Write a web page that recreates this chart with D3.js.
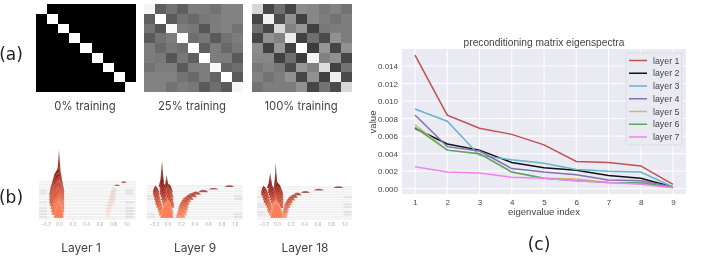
<!DOCTYPE html>
<html>
<head>
<meta charset="utf-8">
<script src="https://cdn.jsdelivr.net/npm/d3@7/dist/d3.min.js"></script>
<style>
html, body { margin: 0; padding: 0; background: #fff; }
svg { display: block; filter: blur(0.35px); }
</style>
</head>
<body>
<div class="graph"></div>
<script>
// (a) gram matrices, grey level 0-255
var matrixLabels = ["0% training", "25% training", "100% training"];
var matrix0 = [
    [255, 0, 0, 0, 0, 0, 0, 0, 0],
    [0, 255, 0, 0, 0, 0, 0, 0, 0],
    [0, 0, 255, 0, 0, 0, 0, 0, 0],
    [0, 0, 0, 255, 0, 0, 0, 0, 0],
    [0, 0, 0, 0, 255, 0, 0, 0, 0],
    [0, 0, 0, 0, 0, 255, 0, 0, 0],
    [0, 0, 0, 0, 0, 0, 255, 0, 0],
    [0, 0, 0, 0, 0, 0, 0, 255, 0],
    [0, 0, 0, 0, 0, 0, 0, 0, 255]
];
var matrix25 = [
    [245, 95, 115, 95, 125, 125, 115, 130, 130],
    [95, 255, 90, 115, 105, 120, 125, 130, 130],
    [115, 85, 250, 125, 120, 85, 125, 130, 115],
    [90, 115, 125, 255, 110, 120, 90, 115, 125],
    [125, 105, 120, 110, 255, 95, 125, 105, 120],
    [125, 120, 85, 120, 95, 255, 125, 125, 90],
    [115, 125, 125, 90, 125, 125, 248, 100, 110],
    [130, 130, 130, 115, 105, 125, 100, 255, 90],
    [130, 130, 115, 125, 120, 90, 110, 90, 245]
];
var matrix100 = [
    [215, 70, 110, 70, 140, 135, 120, 130, 115],
    [70, 240, 75, 145, 65, 135, 125, 115, 125],
    [110, 70, 215, 130, 150, 65, 120, 125, 125],
    [70, 145, 130, 235, 65, 110, 75, 145, 125],
    [140, 65, 150, 65, 255, 60, 150, 70, 145],
    [135, 135, 65, 110, 60, 245, 130, 145, 70],
    [120, 130, 120, 75, 150, 130, 220, 65, 115],
    [130, 115, 125, 145, 70, 145, 65, 240, 75],
    [115, 125, 125, 125, 145, 70, 115, 75, 215]
];

// (b) ridgelines, back row first. each spike is [left, peak, right, height]
var ridgeLabels = ["Layer 1", "Layer 9", "Layer 18"];
var ridgeTicks = [-0.2, 0, 0.2, 0.4, 0.6, 0.8, 1.0];
var layer1Core = [
    [[-0.05, 0, 0.05, 10]],
    [[-0.07, 0, 0.05, 8.5]],
    [[-0.13, -0.01, 0.07, 6.5]],
    [[-0.14, -0.01, 0.08, 6]],
    [[-0.15, 0, 0.08, 5.5]],
    [[-0.15, 0, 0.08, 5.5]],
    [[-0.15, 0, 0.08, 6]],
    [[-0.15, -0.01, 0.08, 5.5]],
    [[-0.14, -0.01, 0.08, 5.5]],
    [[-0.13, 0, 0.08, 5]],
    [[-0.12, 0, 0.08, 5]],
    [[-0.11, 0, 0.07, 5]],
    [[-0.08, 0, 0.07, 5.2]]
];
var layer1Arm = [
    [0.92, 0.96, 1.0, 0.5],
    [0.81, 0.86, 0.91, 0.4],
    [0.88, 0.92, 0.95, 0.1],
    [0.76, 0.81, 0.87, 1.5],
    [0.75, 0.8, 0.86, 1.5],
    [0.74, 0.79, 0.85, 1.5],
    [0.72, 0.79, 0.85, 1.5],
    [0.71, 0.78, 0.84, 1.5],
    [0.69, 0.76, 0.83, 1.5],
    [0.69, 0.74, 0.81, 1.5],
    [0.68, 0.73, 0.79, 1.5],
    [0.68, 0.73, 0.78, 1.4],
    [0.67, 0.72, 0.77, 1.4]
];
var layer9Core = [
    [[-0.13, -0.08, -0.04, 7.9], [-0.05, -0.015, 0.03, 3.6]],
    [[-0.12, -0.08, -0.03, 6.5], [-0.05, -0.01, 0.04, 3.4]],
    [[-0.22, -0.18, -0.12, 2], [-0.12, -0.06, 0, 2.8], [-0.03, 0.02, 0.08, 2.6]],
    [[-0.22, -0.18, -0.11, 2.2], [-0.12, -0.06, 0, 2.4], [-0.03, 0.01, 0.08, 2.6]],
    [[-0.21, -0.17, -0.11, 2.2], [-0.11, -0.05, 0.01, 2.1], [-0.03, 0.02, 0.09, 2.8]],
    [[-0.2, -0.16, -0.1, 2.3], [-0.1, -0.04, 0.01, 2], [-0.03, 0.03, 0.09, 2.8]],
    [[-0.19, -0.15, -0.09, 2.3], [-0.09, -0.03, 0.03, 2], [-0.01, 0.04, 0.09, 2.7]],
    [[-0.18, -0.14, -0.08, 2.3], [-0.08, -0.02, 0.04, 2.4], [0.01, 0.05, 0.1, 2.5]],
    [[-0.17, -0.12, -0.07, 2.4], [-0.08, -0.01, 0.06, 2.7], [0.03, 0.06, 0.1, 2.2]],
    [[-0.15, -0.11, -0.06, 2.4], [-0.08, 0, 0.08, 3.2]],
    [[-0.14, -0.1, -0.05, 2.2], [-0.08, 0, 0.09, 3.6]],
    [[-0.13, -0.09, -0.04, 2], [-0.09, 0, 0.09, 4.1]],
    [[-0.11, -0.02, 0.09, 4.5]]
];
var layer9Arm = [
    [0.84, 0.92, 0.99, 0.5],
    [0.6, 0.68, 0.76, 0.5],
    [0.45, 0.53, 0.61, 0.7],
    [0.34, 0.42, 0.5, 1],
    [0.28, 0.36, 0.44, 1.3],
    [0.24, 0.31, 0.39, 1.5],
    [0.2, 0.27, 0.35, 1.7],
    [0.18, 0.25, 0.33, 1.8],
    [0.16, 0.23, 0.32, 1.9],
    [0.15, 0.22, 0.31, 2],
    [0.14, 0.21, 0.3, 2],
    [0.13, 0.2, 0.29, 2],
    [0.12, 0.18, 0.27, 2]
];
var layer18Core = [
    [[-0.15, -0.1, -0.06, 4.6], [-0.05, -0.02, 0.02, 7.6]],
    [[-0.14, -0.09, -0.05, 3.8], [-0.05, -0.02, 0.03, 6]],
    [[-0.24, -0.2, -0.13, 2.2], [-0.14, -0.08, -0.02, 2.4], [-0.05, 0, 0.09, 3.4]],
    [[-0.24, -0.19, -0.12, 2.2], [-0.13, -0.07, -0.01, 2.4], [-0.04, 0.01, 0.1, 2.8]],
    [[-0.22, -0.18, -0.11, 2.2], [-0.12, -0.06, 0, 2.2], [-0.03, 0.02, 0.1, 2.6]],
    [[-0.21, -0.17, -0.1, 2.2], [-0.11, -0.05, 0.01, 2.1], [-0.03, 0.03, 0.1, 2.4]],
    [[-0.2, -0.16, -0.09, 2.2], [-0.1, -0.04, 0.01, 2.2], [-0.02, 0.03, 0.1, 2.4]],
    [[-0.18, -0.14, -0.08, 2.2], [-0.09, -0.03, 0.03, 2.4], [0, 0.04, 0.1, 2.2]],
    [[-0.16, -0.12, -0.07, 2.1], [-0.09, -0.02, 0.05, 2.8], [0.02, 0.05, 0.1, 1.8]],
    [[-0.15, -0.11, -0.06, 2.1], [-0.09, -0.02, 0.07, 3.2]],
    [[-0.14, -0.1, -0.05, 2], [-0.1, -0.02, 0.09, 3.7]],
    [[-0.12, -0.09, -0.04, 1.8], [-0.1, -0.02, 0.1, 4.2]],
    [[-0.1, -0.02, 0.1, 4.8]]
];
var layer18Arm = [
    [0.83, 0.91, 0.99, 0.5],
    [0.54, 0.62, 0.7, 0.5],
    [0.35, 0.42, 0.49, 0.6],
    [0.24, 0.3, 0.37, 0.9],
    [0.18, 0.25, 0.31, 1.1],
    [0.15, 0.21, 0.27, 1.3],
    [0.13, 0.18, 0.24, 1.5],
    [0.11, 0.16, 0.22, 1.6],
    [0.1, 0.14, 0.2, 1.7],
    [0.09, 0.13, 0.18, 1.7],
    [0.08, 0.12, 0.17, 1.7],
    [0.08, 0.11, 0.16, 1.6],
    [0.08, 0.1, 0.15, 1.4]
];
var layer1Edges = [0, 0, 0, 1, 1, 0, 0, 1, 0, 1, 1, 1, 1];
var layer9Edges = [0, 0, 0, 0, 1, 1, 0, 0, 0, 0, 0, 1, 1];
var layer18Edges = [0, 0, 0, 0, 1, 0, 0, 1, 1, 0, 1, 1, 0];

// (c) eigenspectra
var eigenIndex = [1, 2, 3, 4, 5, 6, 7, 8, 9];
var layerNames = ["layer 1", "layer 2", "layer 3", "layer 4", "layer 5", "layer 6", "layer 7"];
var layer1Values = [0.01524, 0.0084, 0.0069, 0.0062, 0.0050, 0.0031, 0.0030, 0.0026, 0.0005];
var layer2Values = [0.0069, 0.0051, 0.0044, 0.0030, 0.0024, 0.0021, 0.0015, 0.0012, 0.0002];
var layer3Values = [0.0091, 0.0077, 0.0038, 0.0033, 0.0029, 0.0022, 0.0020, 0.0019, 0.0002];
var layer4Values = [0.0084, 0.0048, 0.0043, 0.0023, 0.0019, 0.0016, 0.0010, 0.0009, 0.0002];
var layer5Values = [0.0073, 0.0044, 0.0040, 0.0019, 0.0012, 0.0011, 0.0007, 0.00065, 0.00015];
var layer6Values = [0.0070, 0.0044, 0.0040, 0.0019, 0.0012, 0.0009, 0.0007, 0.00068, 0.00015];
var layer7Values = [0.0025, 0.0019, 0.0018, 0.0013, 0.0012, 0.0009, 0.0007, 0.0005, 0.0001];
var yTicks = [0, 0.002, 0.004, 0.006, 0.008, 0.010, 0.012, 0.014];

const WIDTH = 723;
const HEIGHT = 260;
const LINE_COLORS = ["#c44e52", "#111111", "#64b5cd", "#8172b2", "#ccb974", "#55a868", "#f482ee"];
const CHART_FONT = "'Liberation Sans', Arial, sans-serif";
const CAPTION_FONT = "Inter, 'Open Sans', sans-serif";

var svg = d3.select(".graph").append("svg")
    .attr("width", WIDTH)
    .attr("height", HEIGHT);

svg.append("defs").append("filter")
    .attr("id", "soft")
    .append("feGaussianBlur")
    .attr("stdDeviation", 0.5);

var panelLabel = function (text, x, y) {
    svg.append("text")
        .attr("x", x)
        .attr("y", y)
        .attr("text-anchor", "middle")
        .style("font-family", "'DejaVu Sans', sans-serif")
        .style("font-size", "17px")
        .style("fill", "#222")
        .text(text);
};

var caption = function (text, x, y, size) {
    svg.append("text")
        .attr("x", x)
        .attr("y", y)
        .attr("text-anchor", "middle")
        .style("font-family", CAPTION_FONT)
        .style("font-size", size + "px")
        .style("fill", "#444")
        .text(text);
};

panelLabel("(a)", 11, 60);
panelLabel("(b)", 11, 203);
panelLabel("(c)", 539, 250);

// heatmaps
var drawMatrix = function (matrix, x0, x1, label, labelX) {
    var xScale = d3.scaleBand().domain(d3.range(matrix.length)).range([x0, x1]);
    var yScale = d3.scaleBand().domain(d3.range(matrix.length)).range([4, 92]);
    var cells = [];
    matrix.forEach(function (row, r) {
        row.forEach(function (v, c) {
            cells.push({r: r, c: c, v: v});
        });
    });
    svg.append("g").selectAll("rect")
        .data(cells)
        .enter().append("rect")
        .attr("x", function (d) { return Math.round(xScale(d.c)); })
        .attr("y", function (d) { return Math.round(yScale(d.r)); })
        .attr("width", function (d) { return Math.round(xScale(d.c) + xScale.bandwidth()) - Math.round(xScale(d.c)); })
        .attr("height", function (d) { return Math.round(yScale(d.r) + yScale.bandwidth()) - Math.round(yScale(d.r)); })
        .attr("shape-rendering", "crispEdges")
        .style("fill", function (d) { return d3.rgb(d.v, d.v, d.v); });
    caption(label, labelX, 110, 11.3);
};

drawMatrix(matrix0, 36, 136, matrixLabels[0], 85);
drawMatrix(matrix25, 143.7, 243, matrixLabels[1], 192);
drawMatrix(matrix100, 251.7, 352, matrixLabels[2], 301);

// ridgelines
var rowColor = d3.scaleLinear()
    .domain([0, 0.5, 1])
    .range(["#7c0f0a", "#c9452f", "#fb7f55"]);

var drawRidges = function (core, arm, edges, opts) {
    var g = svg.append("g");
    var xScale = d3.scaleLinear().domain([-0.2, 1.0]).range([opts.zero - 13.5, opts.zero + 67.5]);
    var rowScale = d3.scalePoint().domain(d3.range(core.length)).range([opts.top, 218]);
    var heightScale = d3.scaleLinear().domain([0, 10]).range([0, 33]);
    var rowGap = rowScale.step();

    // faint stripes behind the rows
    core.forEach(function (row, i) {
        g.append("rect")
            .attr("x", opts.x0)
            .attr("y", rowScale(i) - rowGap + 0.6)
            .attr("width", opts.x1 - opts.x0)
            .attr("height", rowGap - 0.7)
            .style("fill", "#f1f1f1");
        if (edges[i]) {
            g.append("rect")
                .attr("x", opts.x0)
                .attr("y", rowScale(i) - rowGap + 0.6)
                .attr("width", 8)
                .attr("height", rowGap - 0.7)
                .style("fill", "#e4e4e4");
            g.append("rect")
                .attr("x", xScale(1.0) - 1)
                .attr("y", rowScale(i) - rowGap + 0.6)
                .attr("width", 8)
                .attr("height", rowGap - 0.7)
                .style("fill", "#e0e0e0");
        }
    });

    var marks = g.append("g").attr("filter", "url(#soft)");

    var area = d3.area()
        .x(function (d) { return xScale(d[0]); })
        .y0(0)
        .y1(function (d) { return -heightScale(d[1]); });

    var drawSpike = function (spike, i, opacity, shoulder) {
        var mid0 = (spike[0] + spike[1]) / 2;
        var mid1 = (spike[1] + spike[2]) / 2;
        marks.append("path")
            .attr("transform", "translate(0," + rowScale(i) + ")")
            .attr("d", area([[spike[0], 0], [mid0, spike[3] * shoulder], [spike[1], spike[3]], [mid1, spike[3] * shoulder], [spike[2], 0]]))
            .style("fill", rowColor(i / (core.length - 1)))
            .style("fill-opacity", opacity)
            .style("stroke", "#fff")
            .style("stroke-opacity", 0.6)
            .style("stroke-width", 0.35);
    };

    core.forEach(function (row, i) {
        row.forEach(function (spike) { drawSpike(spike, i, 1, i < 2 ? 0.3 : 0.68); });
        drawSpike(arm[i], i, i < 2 ? Math.max(opts.armOpacity, 0.7) : opts.armOpacity, 0.85);
    });

    var axis = d3.axisBottom(xScale)
        .tickValues(ridgeTicks)
        .tickSize(2)
        .tickFormat(d3.format(".1f"));
    var axisG = g.append("g")
        .attr("transform", "translate(0,219)")
        .call(axis);
    axisG.select(".domain")
        .attr("d", "M" + opts.x0 + ",0H" + opts.x1)
        .style("stroke", "#ddd")
        .style("stroke-width", 0.6);
    axisG.selectAll(".tick line").style("stroke", "#ddd").style("stroke-width", 0.6);
    axisG.selectAll(".tick text")
        .attr("y", 4)
        .style("font-family", CAPTION_FONT)
        .style("font-size", "4.6px")
        .style("fill", "#aaa");

    caption(opts.label, opts.labelX, 252, 12);
};

drawRidges(layer1Core, layer1Arm, layer1Edges,
    {zero: 59, x0: 39, x1: 136, top: 183, armOpacity: 0.11, label: ridgeLabels[0], labelX: 81});
drawRidges(layer9Core, layer9Arm, layer9Edges,
    {zero: 167.5, x0: 147, x1: 243, top: 187, armOpacity: 0.8, label: ridgeLabels[1], labelX: 195});
drawRidges(layer18Core, layer18Arm, layer18Edges,
    {zero: 277, x0: 257, x1: 352, top: 188, armOpacity: 0.8, label: ridgeLabels[2], labelX: 305});

// line chart
var allValues = [layer1Values, layer2Values, layer3Values, layer4Values, layer5Values, layer6Values, layer7Values];
var plot = {left: 402, right: 686, top: 49, bottom: 194};

var xScale = d3.scaleLinear().domain([1, 9]).range([415, 673]);
var yScale = d3.scaleLinear().domain([0, 0.014]).range([188.7, 66]);

svg.append("rect")
    .attr("x", plot.left)
    .attr("y", plot.top)
    .attr("width", plot.right - plot.left)
    .attr("height", plot.bottom - plot.top)
    .style("fill", "#eaeaf2");

svg.append("g").selectAll("line")
    .data(eigenIndex)
    .enter().append("line")
    .attr("x1", function (d) { return xScale(d); })
    .attr("x2", function (d) { return xScale(d); })
    .attr("y1", plot.top)
    .attr("y2", plot.bottom)
    .style("stroke", "#fff")
    .style("stroke-width", 1);

svg.append("g").selectAll("line")
    .data(yTicks)
    .enter().append("line")
    .attr("x1", plot.left)
    .attr("x2", plot.right)
    .attr("y1", function (d) { return yScale(d); })
    .attr("y2", function (d) { return yScale(d); })
    .style("stroke", "#fff")
    .style("stroke-width", 1);

var xAxis = d3.axisBottom(xScale).tickValues(eigenIndex).tickSize(0).tickFormat(d3.format("d"));
var yAxis = d3.axisLeft(yScale).tickValues(yTicks).tickSize(0).tickFormat(d3.format(".3f"));

var xAxisG = svg.append("g")
    .attr("transform", "translate(0," + plot.bottom + ")")
    .call(xAxis);
var yAxisG = svg.append("g")
    .attr("transform", "translate(" + plot.left + ",0)")
    .call(yAxis);
xAxisG.select(".domain").remove();
yAxisG.select(".domain").remove();
xAxisG.selectAll("text").attr("y", 5);
yAxisG.selectAll("text").attr("x", -4);
[xAxisG, yAxisG].forEach(function (axisG) {
    axisG.selectAll("text")
        .style("font-family", CHART_FONT)
        .style("font-size", "8px")
        .style("fill", "#444");
});

var line = d3.line()
    .x(function (d, i) { return xScale(eigenIndex[i]); })
    .y(function (d) { return yScale(d); });

allValues.forEach(function (values, i) {
    svg.append("path")
        .attr("d", line(values))
        .style("fill", "none")
        .style("stroke", LINE_COLORS[i])
        .style("stroke-width", 1.5);
});

var chartText = function (text, x, y, size) {
    return svg.append("text")
        .attr("x", x)
        .attr("y", y)
        .attr("text-anchor", "middle")
        .style("font-family", CHART_FONT)
        .style("font-size", size + "px")
        .style("fill", "#444")
        .text(text);
};

chartText("preconditioning matrix eigenspectra", 544, 46, 10.2);
chartText("eigenvalue index", 544, 215, 9.6);
chartText("value", 0, 0, 9.6).attr("transform", "translate(376,122) rotate(-90)");

// legend
svg.append("rect")
    .attr("x", 626)
    .attr("y", 53)
    .attr("width", 56)
    .attr("height", 92)
    .attr("rx", 2)
    .style("fill", "#eaeaf2")
    .style("stroke", "#d5d5dc")
    .style("stroke-width", 0.7);

var legendY = d3.scalePoint().domain(layerNames).range([60.5, 137]);
var legendRows = svg.append("g").selectAll("g")
    .data(layerNames)
    .enter().append("g")
    .attr("transform", function (d) { return "translate(0," + legendY(d) + ")"; });
legendRows.append("line")
    .attr("x1", 629)
    .attr("x2", 647)
    .style("stroke", function (d, i) { return LINE_COLORS[i]; })
    .style("stroke-width", 1.5);
legendRows.append("text")
    .attr("x", 653)
    .attr("y", 3)
    .style("font-family", CHART_FONT)
    .style("font-size", "8.8px")
    .style("fill", "#444")
    .text(function (d) { return d; });
</script>
</body>
</html>
